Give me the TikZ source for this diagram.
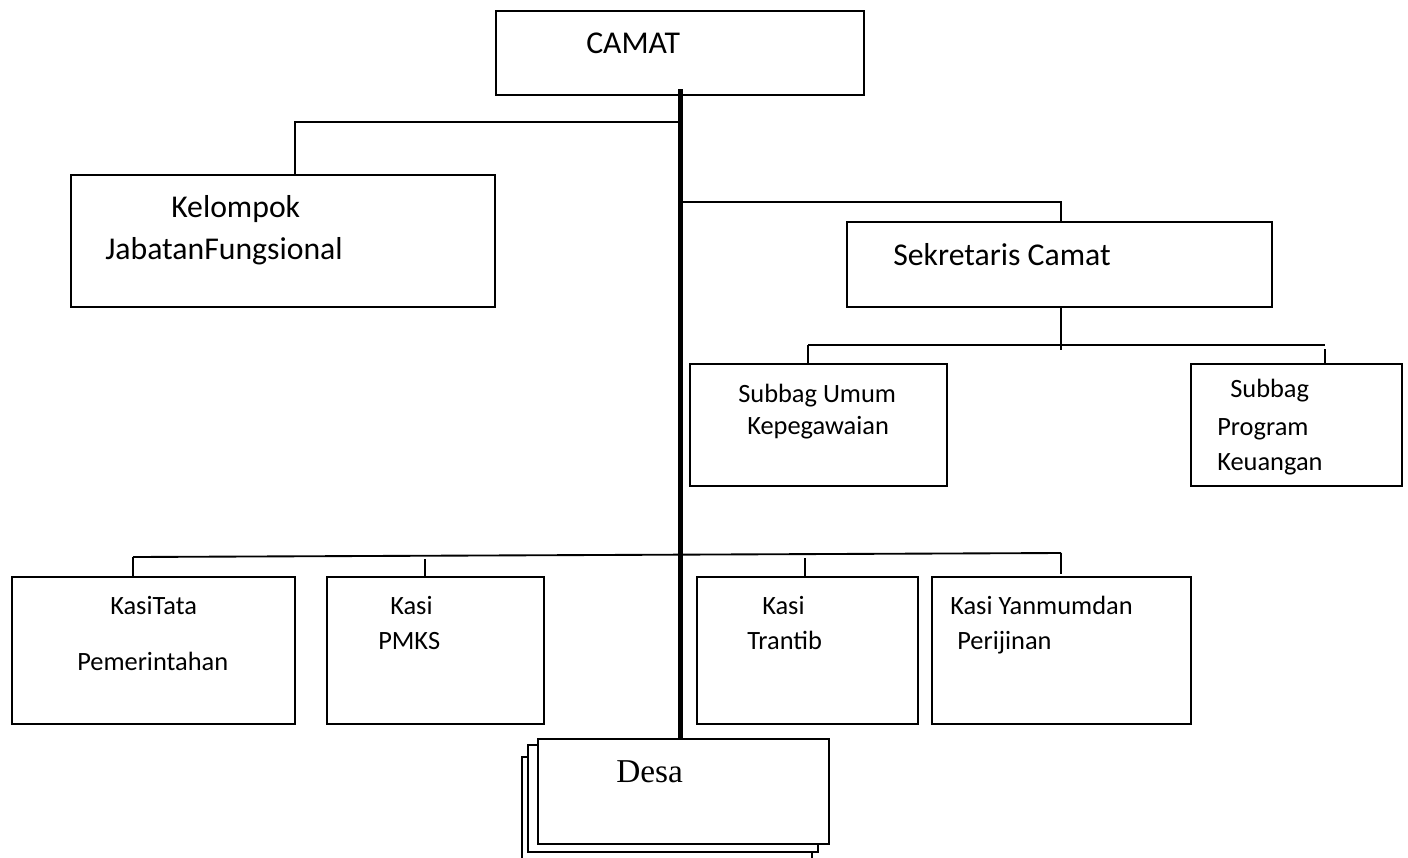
\documentclass[tikz,border=0pt]{standalone}
\usepackage{fontspec}
\setmainfont{Carlito}
\newfontfamily\timesf{Liberation Serif}
\begin{document}
\begin{tikzpicture}[x=0.75pt,y=-0.75pt,
  box/.style={draw, line width=1.6pt, fill=white, inner sep=0pt, outer sep=0pt},
  conn/.style={line width=1.4pt},
  spine/.style={line width=3.75pt},
  big/.style={anchor=base west, inner sep=0pt, font=\fontsize{23.8}{27}\selectfont},
  small/.style={anchor=base west, inner sep=0pt, font=\fontsize{19.8}{23}\selectfont},
  desatxt/.style={anchor=base west, inner sep=0pt, font=\timesf\fontsize{25}{29}\selectfont}]
\useasboundingbox (0,0) rectangle (1408,857);
\clip (0,0) rectangle (1408,857);

% boxes
\node[box, minimum width=276pt, minimum height=63pt] (camat) at (680,53) {};
\node[box, minimum width=318pt, minimum height=99pt] (kel) at (283,241) {};
\node[box, minimum width=318.75pt, minimum height=63.75pt] (sek) at (1059.5,264.5) {};
\node[box, minimum width=192.75pt, minimum height=91.5pt] (sbu) at (818.5,425) {};
\node[box, minimum width=158.25pt, minimum height=91.5pt] (sbp) at (1296.5,425) {};
\node[box, minimum width=212.25pt, minimum height=110.25pt] (k1) at (153.5,650.5) {};
\node[box, minimum width=162.75pt, minimum height=110.25pt] (k2) at (435.5,650.5) {};
\node[box, minimum width=165.75pt, minimum height=110.25pt] (k3) at (807.5,650.5) {};
\node[box, minimum width=194.25pt, minimum height=110.25pt] (k4) at (1061.5,650.5) {};
\node[box, minimum width=217.5pt, minimum height=84.75pt] (desa3) at (667,813.5) {};
\node[box, minimum width=217.5pt, minimum height=80.25pt] (desa2) at (673,798.5) {};
\node[box, minimum width=218.25pt, minimum height=78.75pt] (desa1) at (683.5,791.5) {};

% spine
\draw[spine] ([yshift=4.5pt]camat.south) -- (camat.south |- desa1.north);

% connectors
\coordinate (jk) at (680,122);
\coordinate (kelT) at (295,122);
\draw[conn] (jk) -- (kelT) -- (kelT |- kel.north);

\coordinate (js) at (680,202);
\coordinate (sekT) at (1061,202);
\draw[conn] (js) -- (sekT) -- (sekT |- sek.north);

\coordinate (sekB) at (1061,307);
\coordinate (sekB2) at (1061,350);
\draw[conn] (sekB) -- (sekB2);
\coordinate (sbL) at (808,345);
\coordinate (sbR) at (1325,345);
\draw[conn] (sbL) -- (sbR);
\draw[conn] (sbL) -- (sbL |- sbu.north);
\draw[conn] (1325,349) -- (sbR |- sbp.north);

\coordinate (bL) at (133,557);
\coordinate (bR) at (1061,553);
\draw[conn] (bL) -- (bR);
\draw[conn] (bL) -- (bL |- k1.north);
\draw[conn] (425,559) -- (425,577);
\draw[conn] (805,558) -- (805,577);
\draw[conn] (bR) -- (1061,574);

% texts
\node[big] (tcamat) at (586,53) {CAMAT};
\node[big] (tkel1) at (171,217) {Kelompok};
\node[big] (tkel2) at (105,259) {JabatanFungsional};
\node[big] (tsek) at (893,265) {Sekretaris Camat};
\node[small] (tsbu1) at (738,402) {Subbag Umum};
\node[small] (tsbu2) at (747,434) {Kepegawaian};
\node[small] (tsbp1) at (1230,397) {Subbag};
\node[small] (tsbp2) at (1217,435) {Program};
\node[small] (tsbp3) at (1217,470) {Keuangan};
\node[small] (tk11) at (110,614) {KasiTata};
\node[small] (tk12) at (77,670) {Pemerintahan};
\node[small] (tk21) at (390,614) {Kasi};
\node[small] (tk22) at (378,649) {PMKS};
\node[small] (tk31) at (762,614) {Kasi};
\node[small] (tk32) at (747,649) {Trantib};
\node[small] (tk41) at (950,614) {Kasi Yanmumdan};
\node[small] (tk42) at (957,649) {Perijinan};
\node[desatxt] (tdesa) at (616,782) {Desa};
\end{tikzpicture}
\end{document}
